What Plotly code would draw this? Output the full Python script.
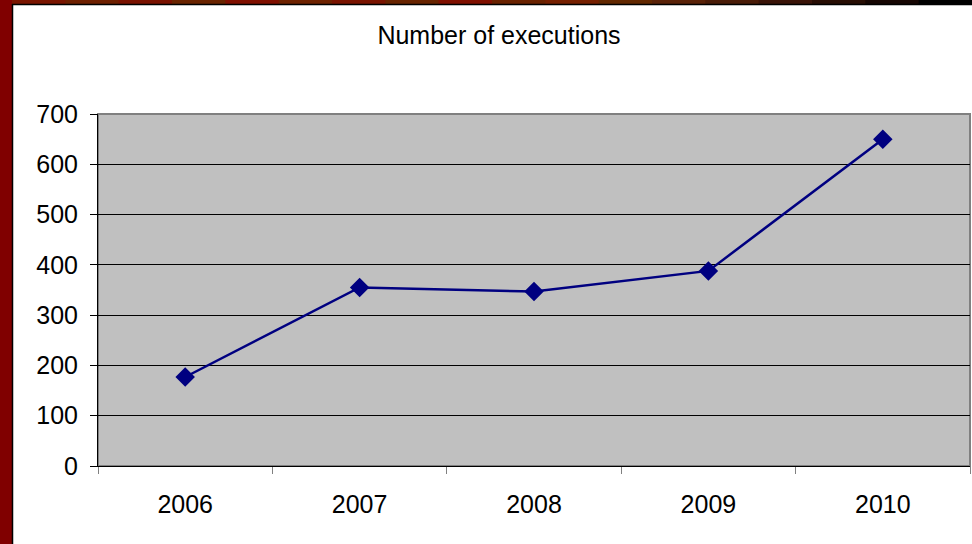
import plotly.graph_objects as go

years = ["2006", "2007", "2008", "2009", "2010"]
executions = [177, 355, 347, 388, 650]
y_ticks = [0, 100, 200, 300, 400, 500, 600, 700]

W, H = 972, 544
L, R, T, B = 98, 2, 114, 78
PW, PH = W - L - R, H - T - B


def px(x):
    return (x - L) / PW


def py(y):
    return (H - B - y) / PH


FONT = "Liberation Sans, Arial, sans-serif"
FS = 25

fig = go.Figure()
fig.add_trace(go.Scatter(
    x=years, y=executions, mode="lines+markers",
    line=dict(color="#000080", width=2.5),
    marker=dict(symbol="diamond", size=15, color="#000080"),
    showlegend=False, hoverinfo="x+y",
))

shapes = []
# left dark red strip
shapes.append(dict(type="rect", xref="paper", yref="paper",
                   x0=px(0), x1=px(12), y0=py(H), y1=py(0),
                   fillcolor="#800000", line=dict(width=0), layer="below"))
# top gradient band
band_cols = ["#7a1500", "#6e2000", "#7a1200", "#6a2400", "#801000", "#6e2200",
             "#7a1400", "#682400", "#801000", "#6a2200", "#762000", "#622800",
             "#5a2208", "#4a1c08", "#3a1408", "#280e04", "#160602", "#000000"]
n = len(band_cols)
for i, c in enumerate(band_cols):
    x0 = 12 + (W - 12) * i / n
    x1 = 12 + (W - 12) * (i + 1) / n
    shapes.append(dict(type="rect", xref="paper", yref="paper",
                       x0=px(x0), x1=px(x1) + 0.002, y0=py(4), y1=py(0),
                       fillcolor=c, line=dict(width=0), layer="below"))
# black edges of the frame
shapes.append(dict(type="line", xref="paper", yref="paper",
                   x0=px(12.5), x1=px(12.5), y0=py(H), y1=py(4),
                   line=dict(color="black", width=1.5)))
shapes.append(dict(type="line", xref="paper", yref="paper",
                   x0=px(12), x1=px(W), y0=py(4.5), y1=py(4.5),
                   line=dict(color="black", width=1.5)))
# plot area border (gray)
shapes.append(dict(type="rect", xref="paper", yref="paper",
                   x0=0, x1=1, y0=0, y1=1,
                   line=dict(color="#808080", width=2), layer="below"))

fig.update_layout(
    width=W, height=H,
    margin=dict(l=L, r=R, t=T, b=B, pad=0),
    paper_bgcolor="white",
    plot_bgcolor="#C0C0C0",
    font=dict(family=FONT, size=FS, color="black"),
    title=dict(text="Number of executions", x=499 / W, xanchor="center",
               xref="container", yref="container", y=1 - 35 / H, yanchor="middle",
               font=dict(family=FONT, size=FS, color="black")),
    shapes=shapes,
    xaxis=dict(type="category", categoryorder="array", categoryarray=years,
               range=[-0.5, 4.5], tickson="boundaries", ticks="outside",
               ticklen=7, tickcolor="#808080", tickwidth=1,
               showline=True, linecolor="black", linewidth=1,
               showgrid=False, zeroline=False, ticklabelstandoff=16,
               tickfont=dict(family=FONT, size=FS, color="black")),
    yaxis=dict(range=[0, 700], tickvals=y_ticks, ticks="outside",
               ticklen=7, tickcolor="black", tickwidth=1,
               showline=True, linecolor="black", linewidth=1,
               showgrid=True, gridcolor="black", gridwidth=1,
               zeroline=False, ticklabelstandoff=7,
               tickfont=dict(family=FONT, size=FS, color="black")),
)

fig.write_html(
    "out.html",
    config={"displayModeBar": False},
    post_script="document.body.style.margin='0';document.body.style.overflow='hidden';",
)
